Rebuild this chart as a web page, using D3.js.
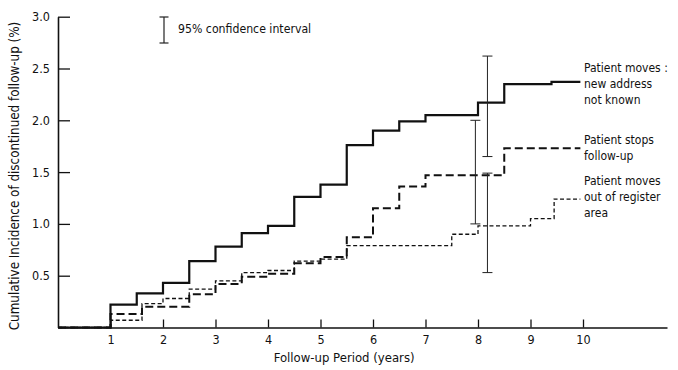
<!DOCTYPE html>
<html>
<head>
<meta charset="utf-8">
<script src="https://cdn.jsdelivr.net/npm/d3@7"></script>
<style>
  body { margin: 0; background: #fff; }
  svg text { font-family: "DejaVu Sans Condensed", "Liberation Sans Narrow", "DejaVu Sans", sans-serif; fill: #111; }
</style>
</head>
<body>
<svg id="chart" width="678" height="370"></svg>
<script>
// step curves: year where each step starts, and the cumulative % from there
var movedUnknownYears = [0, 1, 1.5, 2, 2.5, 3, 3.5, 4, 4.5, 5, 5.5, 6, 6.5, 7, 8, 8.5, 9.4];
var movedUnknownPct   = [0, 0.22, 0.33, 0.43, 0.64, 0.78, 0.91, 0.98, 1.26, 1.38, 1.76, 1.90, 1.99, 2.05, 2.17, 2.35, 2.37];

var stoppedYears = [0, 1, 1.6, 2.5, 3, 3.5, 4, 4.5, 5, 5.5, 6, 6.5, 7, 8.5];
var stoppedPct   = [0, 0.13, 0.20, 0.32, 0.42, 0.49, 0.52, 0.62, 0.68, 0.87, 1.15, 1.36, 1.47, 1.73];

var movedOutYears = [0, 1, 1.6, 2, 2.5, 3, 3.5, 4, 4.5, 5, 5.5, 7.5, 8, 9, 9.45];
var movedOutPct   = [0, 0.07, 0.23, 0.28, 0.37, 0.45, 0.53, 0.55, 0.64, 0.66, 0.79, 0.90, 0.98, 1.05, 1.24];

var endYear = 9.95;

// 95% confidence intervals
var ciYears = [7.95, 8.18, 8.18];
var ciLow   = [1.0, 1.65, 0.53];
var ciHigh  = [2.0, 2.62, 1.49];

var xTicks = [1, 2, 3, 4, 5, 6, 7, 8, 9, 10];
var yTicks = [0.5, 1.0, 1.5, 2.0, 2.5, 3.0];

var labelMovedUnknown = ["Patient moves :", "new address", "not known"];
var labelStopped = ["Patient stops", "follow-up"];
var labelMovedOut = ["Patient moves", "out of register", "area"];

var svg = d3.select('#chart');

var x = d3.scaleLinear().domain([0, 11.6]).range([58, 667]);
var y = d3.scaleLinear().domain([0, 3]).range([327.5, 16.7]);

// axes
var xAxis = d3.axisBottom(x).tickValues(xTicks).tickSize(-8).tickSizeOuter(0).tickPadding(8)
    .tickFormat(d3.format("d"));
var yAxis = d3.axisLeft(y).tickValues(yTicks).tickSize(-12).tickSizeOuter(0).tickPadding(8)
    .tickFormat(d3.format(".1f"));

var gx = svg.append("g").attr("transform", "translate(0," + y(0) + ")").call(xAxis);
var gy = svg.append("g").attr("transform", "translate(" + x(0) + ",0)").call(yAxis);

[gx, gy].forEach(function (g) {
    g.select(".domain").attr("stroke", "#111").attr("stroke-width", 1.6);
    g.selectAll(".tick line").attr("stroke", "#111").attr("stroke-width", 1.3);
    g.selectAll(".tick text").style("font-size", "12.5px");
});

// step lines
var line = d3.line()
    .x(function (d) { return x(d[0]); })
    .y(function (d) { return y(d[1]); })
    .curve(d3.curveStepAfter);

function pts(years, pct) {
    var p = years.map(function (t, i) { return [t, pct[i]]; });
    p.push([endYear, pct[pct.length - 1]]);
    return p;
}

svg.append("path").datum(pts(movedOutYears, movedOutPct))
    .attr("d", line).attr("fill", "none").attr("stroke", "#111")
    .attr("stroke-width", 1.3).attr("stroke-dasharray", "4,2.5");

svg.append("path").datum(pts(stoppedYears, stoppedPct))
    .attr("d", line).attr("fill", "none").attr("stroke", "#111")
    .attr("stroke-width", 2).attr("stroke-dasharray", "8,4");

svg.append("path").datum(pts(movedUnknownYears, movedUnknownPct))
    .attr("d", line).attr("fill", "none").attr("stroke", "#111")
    .attr("stroke-width", 2.2);

// confidence interval bars
var ci = svg.append("g").attr("stroke", "#222").attr("stroke-width", 1);
ciYears.forEach(function (t, i) {
    ci.append("line").attr("x1", x(t)).attr("x2", x(t)).attr("y1", y(ciLow[i])).attr("y2", y(ciHigh[i]));
    ci.append("line").attr("x1", x(t) - 5).attr("x2", x(t) + 5).attr("y1", y(ciLow[i])).attr("y2", y(ciLow[i]));
    ci.append("line").attr("x1", x(t) - 5).attr("x2", x(t) + 5).attr("y1", y(ciHigh[i])).attr("y2", y(ciHigh[i]));
});

// key for the bars
var key = svg.append("g").attr("stroke", "#222").attr("stroke-width", 1.2);
key.append("line").attr("x1", 164).attr("x2", 164).attr("y1", 17).attr("y2", 43);
key.append("line").attr("x1", 159.5).attr("x2", 168.5).attr("y1", 17).attr("y2", 17);
key.append("line").attr("x1", 159.5).attr("x2", 168.5).attr("y1", 43).attr("y2", 43);
svg.append("text").attr("x", 178).attr("y", 29).attr("dy", "0.35em")
    .style("font-size", "12.2px").text("95% confidence interval");

// labels at the line ends
function label(lines, y0) {
    var t = svg.append("text").attr("x", 584).attr("y", y0).style("font-size", "12px");
    lines.forEach(function (s, i) {
        t.append("tspan").attr("x", 584).attr("y", y0 + i * 16).attr("dy", "0.35em").text(s);
    });
}
label(labelMovedUnknown, 68);
label(labelStopped, 140);
label(labelMovedOut, 181);

// axis titles
svg.append("text")
    .attr("transform", "translate(" + (x(0) + x(10.9)) / 2 + "," + 357 + ")")
    .style("text-anchor", "middle").style("font-size", "13px")
    .attr("dy", "0.35em")
    .text("Follow-up Period (years)");

svg.append("text")
    .attr("transform", "translate(14," + 176 + "), rotate(-90)")
    .style("text-anchor", "middle").style("font-size", "13.3px")
    .attr("dy", "0.35em")
    .text("Cumulative Incidence of discontinued follow-up (%)");
</script>
</body>
</html>
